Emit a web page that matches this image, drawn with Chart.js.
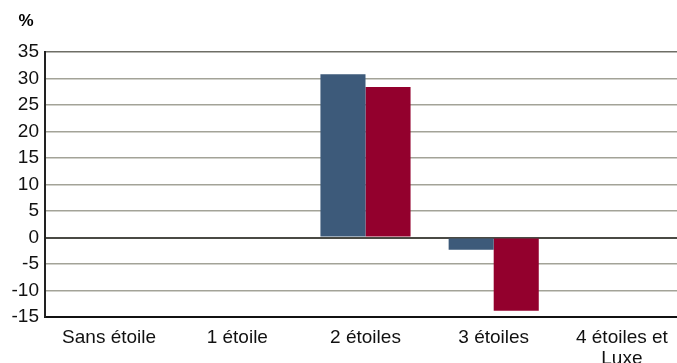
<!DOCTYPE html>
<html>
<head>
    <meta charset="utf-8">
    <title>Étoiles</title>
    <script src="https://cdn.jsdelivr.net/npm/chart.js"></script>
    <style>
        html, body { margin: 0; padding: 0; background: #fff; overflow: hidden; }
        #wrap { width: 686px; height: 363px; }
    </style>
</head>
<body>
    <div id="wrap"><canvas id="chart" width="686" height="363"></canvas></div>
    <script>
        // categories et valeurs (en %)
        const categories = ['Sans étoile', '1 étoile', '2 étoiles', '3 étoiles', ['4 étoiles et', 'Luxe']];
        const serieBleue = [null, null, 30.8, -2.3];
        const serieRouge = [null, null, 28.4, -13.8];
        const yTicks = { min: -15, max: 35, step: 5 };

        // petit "%" au-dessus de l'axe
        const unitLabel = {
            id: 'unitLabel',
            afterDraw(chart) {
                const c = chart.ctx;
                c.save();
                c.font = 'bold 17px "Liberation Sans", Arial, sans-serif';
                c.fillStyle = '#000';
                c.textAlign = 'center';
                c.textBaseline = 'middle';
                c.fillText('%', 26, 21);
                c.restore();
            }
        };

        new Chart(document.getElementById('chart'), {
            type: 'bar',
            data: {
                labels: categories,
                datasets: [
                    { data: serieBleue, backgroundColor: '#3d5a7a', barPercentage: 1, categoryPercentage: 0.703 },
                    { data: serieRouge, backgroundColor: '#93002d', barPercentage: 1, categoryPercentage: 0.703 }
                ]
            },
            options: {
                responsive: false,
                animation: false,
                layout: { padding: { top: 52, right: 0, bottom: 0, left: 0 } },
                plugins: { legend: { display: false }, tooltip: { enabled: false } },
                scales: {
                    x: {
                        grid: { display: false },
                        border: { display: true, color: '#111', width: 2 },
                        ticks: { color: '#111', padding: 2, maxRotation: 0, autoSkip: false,
                                 font: { family: '"Liberation Sans", Arial, sans-serif', size: 19, lineHeight: 1.1 } },
                        afterFit: s => { s.height = 46; }
                    },
                    y: {
                        min: yTicks.min, max: yTicks.max,
                        grid: {
                            color: ctx => ctx.tick.value === 0 ? '#4a4a44' : (ctx.tick.value === yTicks.max ? '#6e6e66' : '#a3a398'),
                            lineWidth: ctx => ctx.tick.value === 0 ? 2 : 1.5,
                            drawTicks: false
                        },
                        border: { display: true, color: '#222', width: 2 },
                        ticks: { stepSize: yTicks.step, color: '#111', padding: 6,
                                 font: { family: '"Liberation Sans", Arial, sans-serif', size: 19 } },
                        afterFit: s => { s.width = 45; }
                    }
                }
            },
            plugins: [unitLabel]
        });
    </script>
</body>
</html>
